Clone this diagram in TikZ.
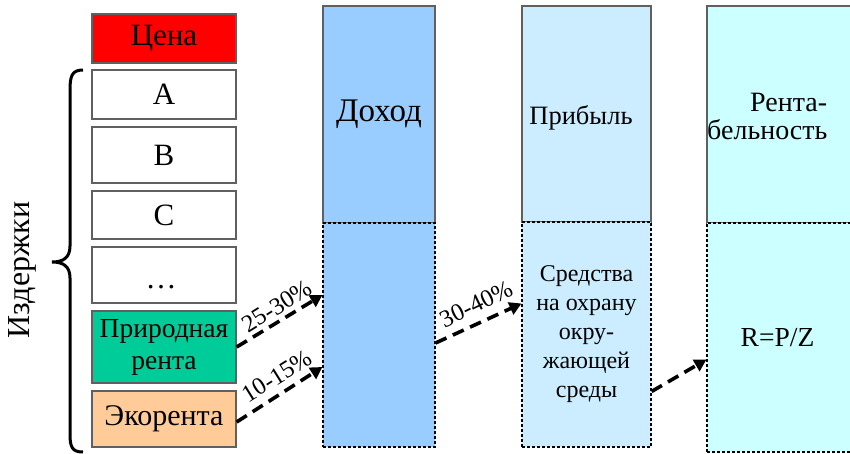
\documentclass[tikz,border=0pt]{standalone}
\usepackage{fontspec}
\setmainfont{Liberation Serif}
\usetikzlibrary{arrows.meta,calc}
\definecolor{priceRed}{HTML}{FF0000}
\definecolor{rentGreen}{HTML}{00CC99}
\definecolor{ecoPeach}{HTML}{FFCC99}
\definecolor{incomeBlue}{HTML}{99CCFF}
\definecolor{profitBlue}{HTML}{CCECFF}
\definecolor{rateCyan}{HTML}{CCFFFF}
\definecolor{edgeGray}{HTML}{606060}
\tikzset{
  costbox/.style={draw=edgeGray, line width=1.3pt, minimum width=144pt,
    inner sep=0pt, align=center, font=\fontsize{31}{34}\selectfont},
  coltop/.style={draw=edgeGray, line width=1.1pt, inner sep=0pt, align=center},
  colbottom/.style={draw=black, line width=1.1pt, dash pattern=on 3pt off 2pt,
    inner sep=0pt, align=center},
  flow/.style={line width=3.6pt, dash pattern=on 12pt off 7pt,
    -{Triangle[length=12pt,width=13pt]}},
  pct/.style={font=\fontsize{24.5}{28}\selectfont, inner sep=0pt},
}
\begin{document}
\begin{tikzpicture}[x=1pt,y=-1pt]
\useasboundingbox (0,0) rectangle (850,454);

% cost column
\node[costbox, fill=priceRed, minimum height=49pt] (price) at (164,38.5) {Цена};
\node[costbox, minimum height=49pt] (ca) at (164,94.5) {A};
\node[costbox, minimum height=56pt] (cb) at (164,155) {B};
\node[costbox, minimum height=48pt] (cc) at (164,215) {C};
\node[costbox, minimum height=56pt] (cdots) at (164,275) {};
\node[font=\fontsize{31}{34}\selectfont, anchor=base, inner sep=0pt] (dots) at (161,288) {…};
\node[costbox, fill=rentGreen, minimum height=72pt,
  font=\fontsize{27.5}{32}\selectfont] (prir) at (164,347) {Природная\\рента};
\node[costbox, fill=ecoPeach, minimum height=56pt,
  font=\fontsize{30}{34}\selectfont] (eco) at (164,419) {Экорента};

% brace over the cost items
\draw[line width=3pt] (83,70) .. controls (72,70) and (70,76) .. (70,90)
  -- (70,246) .. controls (70,258) and (63,262) .. (52,262)
  .. controls (63,262) and (70,266) .. (70,278)
  -- (70,434) .. controls (70,447) and (72,452) .. (83,452);
\node[rotate=90, font=\fontsize{32}{36}\selectfont] (costs) at (22,270) {Издержки};

% income column
\node[coltop, fill=incomeBlue, minimum width=112pt, minimum height=217pt,
  font=\fontsize{33}{36}\selectfont] (dt) at (379,114.5) {Доход};
\node[colbottom, fill=incomeBlue, minimum width=112pt, minimum height=224pt] (dl) at (379,335) {};

% profit column
\node[coltop, fill=profitBlue, minimum width=129pt, minimum height=216pt] (pt) at (586.5,114) {};
\node[font=\fontsize{26.5}{30}\selectfont, inner sep=0pt] (ptxt) at (581,118) {Прибыль};
\node[colbottom, fill=profitBlue, minimum width=129pt, minimum height=225pt,
  font=\fontsize{24}{29}\selectfont] (pl) at (586.5,334.5)
  {Средства\\на охрану\\окру-\\жающей\\среды};

% profitability column
\node[coltop, fill=rateCyan, minimum width=145pt, minimum height=217pt] (rt) at (779.5,114.5) {};
\node[font=\fontsize{28}{27.5}\selectfont, align=left, inner sep=0pt, anchor=north west]
  (rtxt) at (707,93) {\hspace*{43pt}Рента-\\бельность};
\node[colbottom, fill=rateCyan, minimum width=145pt, minimum height=229pt,
  font=\fontsize{27.5}{30}\selectfont] (rl) at (779.5,337.5) {\hspace*{-4pt}R=P/Z};

% flows
\draw[flow] (prir.east) -- ($(dl.west)+(0,-40)$);
\draw[flow] ($(eco.east)+(0,3)$) -- ($(dl.west)+(0,32)$);
\draw[flow] ($(dl.east)+(0,8)$) -- ($(pl.west)+(0,-31)$);
\draw[flow] ($(pl.east)+(0,57)$) -- ($(rl.west)+(0,22)$);

% flow shares
\node[pct, rotate=32] (p1) at (277,306) {25-30\%};
\node[pct, rotate=32] (p2) at (277,376) {10-15\%};
\node[pct, rotate=26] (p3) at (476,304) {30-40\%};
\end{tikzpicture}
\end{document}
